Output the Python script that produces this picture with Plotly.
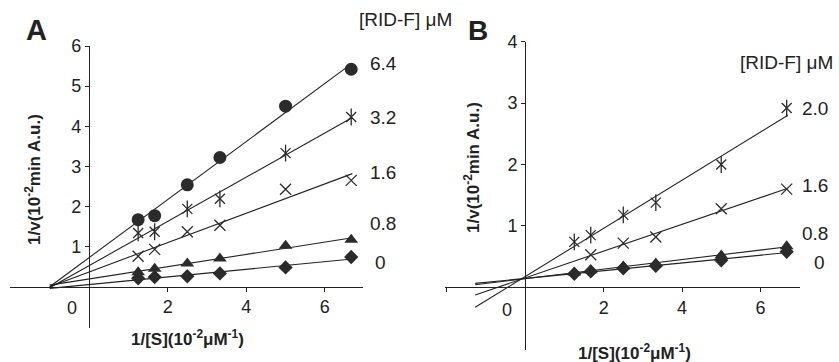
import numpy as np
import plotly.graph_objects as go

# ---------------- data ----------------
inv_s = [1.25, 1.67, 2.5, 3.33, 5.0, 6.67]          # 1/[S] (10^-2 uM^-1)
inv_s_b16 = [1.67, 2.5, 3.33, 5.0, 6.67]

# Panel A  ([RID-F] uM : 6.4, 3.2, 1.6, 0.8, 0)
a_64 = [1.67, 1.77, 2.54, 3.22, 4.50, 5.42]
a_32 = [1.34, 1.37, 1.94, 2.19, 3.33, 4.23]
a_16 = [0.76, 0.93, 1.37, 1.53, 2.43, 2.65]
a_08 = [0.36, 0.45, 0.58, 0.70, 1.02, 1.17]
a_00 = [0.21, 0.24, 0.26, 0.33, 0.48, 0.74]
a_labels = ["6.4", "3.2", "1.6", "0.8", "0"]

# Panel B  ([RID-F] uM : 2.0, 1.6, 0.8, 0)
b_20 = [0.74, 0.85, 1.18, 1.38, 2.00, 2.92]
b_16 = [0.53, 0.72, 0.82, 1.28, 1.60]
b_08 = [0.24, 0.28, 0.34, 0.39, 0.52, 0.67]
b_00 = [0.22, 0.26, 0.31, 0.35, 0.44, 0.58]
b_labels = ["2.0", "1.6", "0.8", "0"]

fit_x_a = [-1.0, 6.7]
fit_x_b = [-1.28, 6.7]

x_ticks = [2, 4, 6]
a_y_ticks = [1, 2, 3, 4, 5, 6]
b_y_ticks = [1, 2, 3, 4]

# ---------------- style ----------------
W, H = 839, 362
FONT = "Liberation Sans, Arial, sans-serif"
INK = "#222222"
MK = "#2b2b2b"

fig = go.Figure()


def add_fit(xs, ys, xr, ya):
    k, b = np.polyfit(xs, ys, 1)
    xx = np.array(xr)
    fig.add_trace(go.Scatter(x=xx, y=k * xx + b, mode="lines",
                             line=dict(color=INK, width=1.1),
                             xaxis=ya[0], yaxis=ya[1], hoverinfo="skip"))


def add_pts(xs, ys, symbol, size, ya, lw=1.3):
    fig.add_trace(go.Scatter(x=xs, y=ys, mode="markers",
                             marker=dict(symbol=symbol, size=size, color=MK,
                                         line=dict(color=MK, width=lw)),
                             xaxis=ya[0], yaxis=ya[1]))


def add_star(xs, ys, size, ya):
    add_pts(xs, ys, "x-thin-open", size, ya)
    add_pts(xs, ys, "line-ns-open", size + 2, ya)


A = ("x", "y")
B = ("x2", "y2")

for ys in [a_64, a_32, a_16, a_08, a_00]:
    add_fit(inv_s, ys, fit_x_a, A)
add_pts(inv_s, a_64, "circle", 13, A, 0)
add_star(inv_s, a_32, 10, A)
add_pts(inv_s, a_16, "x-thin-open", 11, A)
add_pts(inv_s, a_08, "triangle-up", 12, A, 0)
add_pts(inv_s, a_00, "diamond", 11, A, 0)

add_fit(inv_s, b_20, fit_x_b, B)
add_fit(inv_s_b16, b_16, fit_x_b, B)
add_fit(inv_s, b_08, fit_x_b, B)
add_fit(inv_s, b_00, fit_x_b, B)
add_star(inv_s, b_20, 10, B)
add_pts(inv_s_b16, b_16, "x-thin-open", 11, B)
add_pts(inv_s, b_08, "triangle-up", 12, B, 0)
add_pts(inv_s, b_00, "diamond", 11, B, 0)


def px(x):
    return x / W


def py(y):
    return 1 - y / H


axis_common = dict(showline=True, linecolor=INK, linewidth=1.2, ticks="outside",
                   ticklen=4, tickwidth=1.2, tickcolor=INK, showgrid=False,
                   zeroline=False, anchor="free", automargin=False,
                   tickfont=dict(family=FONT, size=18, color=INK))

fig.update_layout(
    width=W, height=H, margin=dict(l=0, r=0, t=0, b=0, autoexpand=False),
    paper_bgcolor="white", plot_bgcolor="white", showlegend=False,
    xaxis=dict(domain=[px(10), px(363)], range=[-2.01, 6.97],
               position=py(286.7), tickvals=x_ticks, **axis_common),
    yaxis=dict(domain=[py(328), py(46)], range=[-1.03, 6.0],
               position=px(89), tickvals=a_y_ticks, **axis_common),
    xaxis2=dict(domain=[px(445), px(800)], range=[-2.05, 7.01],
                position=py(287.3), tickvals=[-2] + x_ticks,
                ticktext=[""] + [str(t) for t in x_ticks], **axis_common),
    yaxis2=dict(domain=[py(350), py(41.7)], range=[-1.02, 4.0],
                position=px(525.3), tickvals=b_y_ticks, **axis_common),
)

ann = []


def text(x, y, s, size=18, xanchor="center", angle=0):
    ann.append(dict(x=px(x), y=py(y), xref="paper", yref="paper", text=s,
                    showarrow=False, xanchor=xanchor, yanchor="middle",
                    textangle=angle,
                    font=dict(family=FONT, size=size, color=INK)))


# panel letters
text(36, 30, "<b>A</b>", 29)
text(478, 30, "<b>B</b>", 28)
# concentration headers
text(405, 20, "[RID-F] μM", 19)
text(786, 62, "[RID-F] μM", 19)
# series labels
for lab, yy in zip(a_labels, [63, 118, 172, 223, 262]):
    text(368 if lab != "0" else 373, yy, lab, 19, xanchor="left")
for lab, yy in zip(b_labels, [108, 185, 233, 262]):
    text(800 if lab != "0" else 812, yy, lab, 19, xanchor="left")
# x-axis "0" labels
text(72, 308, "0", 18)
text(507, 310, "0", 18)
# axis titles
xt = "<b>1/[S](10<sup>-2</sup>μM<sup>-1</sup>)</b>"
yt = "<b>1/v(10<sup>-2</sup>min A.u.)</b>"
text(187, 338, xt, 17)
text(634, 352, xt, 17)
text(33, 180, yt, 17, angle=-90)
text(472, 168, yt, 17, angle=-90)

fig.update_layout(annotations=ann)
fig.write_html("out.html", config={"displayModeBar": False},
               post_script="document.body.style.margin='0';"
                           "document.body.style.overflow='hidden';")
